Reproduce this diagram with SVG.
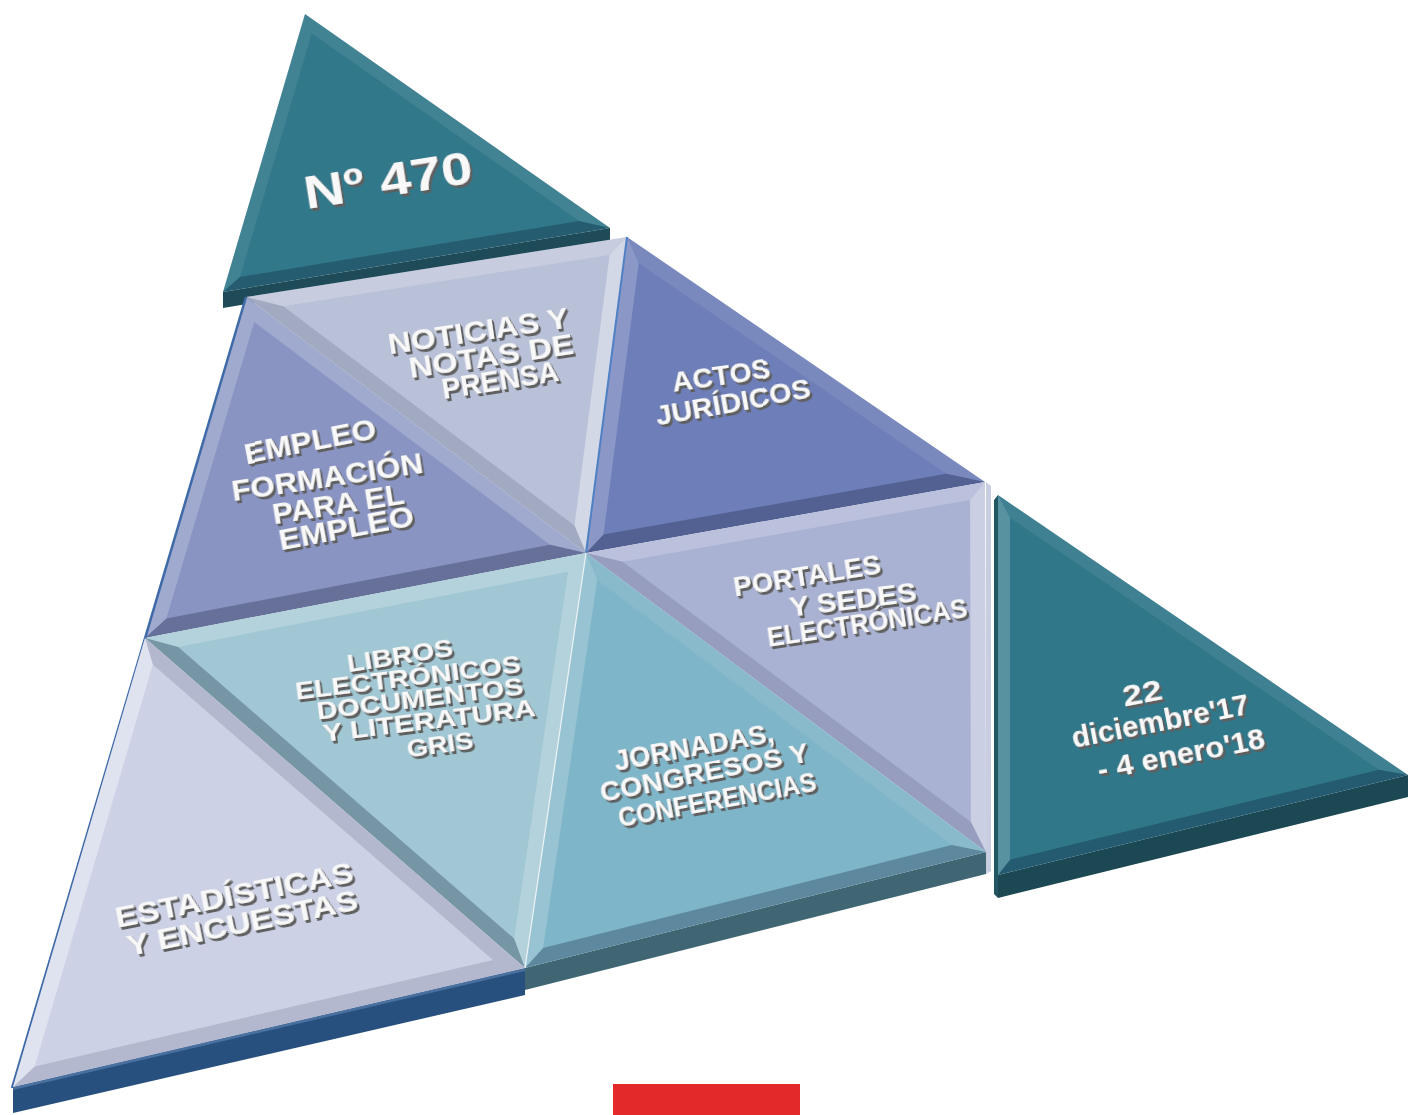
<svg xmlns="http://www.w3.org/2000/svg" width="1410" height="1115" viewBox="0 0 1410 1115">
<defs>
<style>
.hi1{fill:#ffffff;fill-opacity:.38}
.hi2{fill:#ffffff;fill-opacity:.2}
.hi3{fill:#ffffff;fill-opacity:.08}
.sh1{fill:#1a2440;fill-opacity:.14}
.sh2{fill:#0a1530;fill-opacity:.28}
.lbl{font-family:"Liberation Sans",Arial,sans-serif;font-weight:bold;fill:#f8f8f8;text-anchor:middle;filter:url(#emb)}
.f46{font-size:46px}
.f30{font-size:30px}
.f29{font-size:29px}
.f27{font-size:27px}
.f23{font-size:23px}
</style>
<filter id="emb" x="-10%" y="-40%" width="125%" height="190%">
<feOffset in="SourceAlpha" dx="0.7" dy="1.4" result="o1"/>
<feOffset in="SourceAlpha" dx="1.5" dy="2.8" result="o2"/>
<feMerge result="m"><feMergeNode in="o1"/><feMergeNode in="o2"/></feMerge>
<feFlood flood-color="#5e5e5e"/>
<feComposite in2="m" operator="in" result="sh"/>
<feMerge><feMergeNode in="sh"/><feMergeNode in="SourceGraphic"/></feMerge>
</filter>
</defs>
<rect width="1410" height="1115" fill="#ffffff"/>

<g id="numero">
<polygon points="223,292 610,228 610,244 223,308" fill="#1e4b57"/>
<polygon points="305,14 223,292 610,228" fill="#31788a"/>
<polygon class="hi3" points="305,14 223,292 240,277 311.8,33.5"/>
<polygon class="sh2" points="223,292 610,228 579,220.9 240,277"/>
<polygon class="hi3" points="610,228 305,14 311.8,33.5 579,220.9"/>
<text class="lbl f46" transform="translate(388,180) rotate(-9)" y="16" textLength="170" lengthAdjust="spacingAndGlyphs">Nº 470</text>
</g>

<g id="noticias">
<polygon points="246,297 627,237 586,553" fill="#b9c1d8"/>
<polygon class="hi2" points="246,297 627,237 609.6,254.9 283.3,306.3"/>
<polygon class="hi1" points="627,237 586,553 574.5,525.6 609.6,254.9"/>
<polygon class="sh1" points="586,553 246,297 283.3,306.3 574.5,525.6"/>
<text class="lbl f29" transform="translate(478,330) rotate(-8.5)" y="10.5" textLength="182" lengthAdjust="spacingAndGlyphs">NOTICIAS Y</text>
<text class="lbl f29" transform="translate(491,355) rotate(-8.5)" y="10.5" textLength="166" lengthAdjust="spacingAndGlyphs">NOTAS DE</text>
<text class="lbl f29" transform="translate(500,379) rotate(-9)" y="10.5" textLength="118" lengthAdjust="spacingAndGlyphs">PRENSA</text>
</g>

<g id="actos">
<polygon points="627,237 985,482 586,553" fill="#6e7eb8"/>
<polygon class="hi3" points="627,237 985,482 946.3,473.7 638.7,263.2"/>
<polygon class="sh2" points="985,482 586,553 603.5,534.6 946.3,473.7"/>
<polygon class="hi2" points="586,553 627,237 638.7,263.2 603.5,534.6"/>
<line x1="627" y1="237" x2="586" y2="553" stroke="#4f80c4" stroke-width="2"/>
<text class="lbl f27" transform="translate(721,375) rotate(-8)" y="9.5" textLength="99" lengthAdjust="spacingAndGlyphs">ACTOS</text>
<text class="lbl f27" transform="translate(733,402) rotate(-10)" y="9.5" textLength="157" lengthAdjust="spacingAndGlyphs">JURÍDICOS</text>
</g>

<g id="empleo">
<polygon points="246,297 586,553 145,638" fill="#8994c2"/>
<polygon class="hi2" points="246,297 586,553 550,544.7 254.2,322"/>
<polygon class="sh2" points="586,553 145,638 166.4,618.6 550,544.7"/>
<polygon class="hi2" points="145,638 246,297 254.2,322 166.4,618.6"/>
<text class="lbl f29" transform="translate(310,441) rotate(-11)" y="10.5" textLength="134" lengthAdjust="spacingAndGlyphs">EMPLEO</text>
<text class="lbl f29" transform="translate(327,476) rotate(-8.5)" y="10.5" textLength="193" lengthAdjust="spacingAndGlyphs">FORMACIÓN</text>
<text class="lbl f29" transform="translate(338,503) rotate(-9)" y="10.5" textLength="133" lengthAdjust="spacingAndGlyphs">PARA EL</text>
<text class="lbl f29" transform="translate(346,527) rotate(-10.5)" y="10.5" textLength="137" lengthAdjust="spacingAndGlyphs">EMPLEO</text>
</g>

<g id="libros">
<polygon points="145,638 586,553 525,968" fill="#a0c7d3"/>
<polygon class="hi2" points="145,638 586,553 568,571.8 178.2,646.9"/>
<polygon class="hi2" points="586,553 525,968 514.1,938.6 568,571.8"/>
<polygon class="sh2" points="525,968 145,638 178.2,646.9 514.1,938.6"/>
<text class="lbl f23" transform="translate(400,656) rotate(-9)" y="8.3" textLength="107" lengthAdjust="spacingAndGlyphs">LIBROS</text>
<text class="lbl f23" transform="translate(408,678) rotate(-7)" y="8.3" textLength="227" lengthAdjust="spacingAndGlyphs">ELECTRÓNICOS</text>
<text class="lbl f23" transform="translate(420,699) rotate(-7)" y="8.3" textLength="208" lengthAdjust="spacingAndGlyphs">DOCUMENTOS</text>
<text class="lbl f23" transform="translate(429,721) rotate(-7)" y="8.3" textLength="214" lengthAdjust="spacingAndGlyphs">Y LITERATURA</text>
<text class="lbl f23" transform="translate(440,745) rotate(-8)" y="8.3" textLength="67" lengthAdjust="spacingAndGlyphs">GRIS</text>
</g>

<g id="portales">
<polygon points="986,482 991,486 991,871 986,874" fill="#c9cde0"/>
<polygon points="586,553 985,482 986,852" fill="#aab2d4"/>
<polygon class="hi2" points="586,553 985,482 970.1,499.9 622.7,561.7"/>
<polygon class="hi1" points="985,482 986,852 970.9,822 970.1,499.9"/>
<polygon class="sh1" points="986,852 586,553 622.7,561.7 970.9,822"/>
<text class="lbl f27" transform="translate(807,575) rotate(-9)" y="9.5" textLength="149" lengthAdjust="spacingAndGlyphs">PORTALES</text>
<text class="lbl f27" transform="translate(853,600) rotate(-7)" y="9.5" textLength="128" lengthAdjust="spacingAndGlyphs">Y SEDES</text>
<text class="lbl f27" transform="translate(867,622) rotate(-8.5)" y="9.5" textLength="202" lengthAdjust="spacingAndGlyphs">ELECTRÓNICAS</text>
</g>

<g id="jornadas">
<polygon points="525,968 986,852 986,874 525,990" fill="#3f6672"/>
<polygon points="586,553 986,852 525,968" fill="#7fb5c8"/>
<polygon class="hi3" points="586,553 986,852 951.8,845.1 597.2,580.1"/>
<polygon class="sh2" points="986,852 525,968 543.1,948 951.8,845.1"/>
<polygon class="hi2" points="525,968 586,553 597.2,580.1 543.1,948"/>
<line x1="586" y1="553" x2="525" y2="968" stroke="#eef4f6" stroke-width="1.2"/>
<text class="lbl f27" transform="translate(694,747) rotate(-10)" y="9.5" textLength="162" lengthAdjust="spacingAndGlyphs">JORNADAS,</text>
<text class="lbl f27" transform="translate(704,772) rotate(-11)" y="9.5" textLength="212" lengthAdjust="spacingAndGlyphs">CONGRESOS  Y</text>
<text class="lbl f27" transform="translate(717,799) rotate(-10.5)" y="9.5" textLength="201" lengthAdjust="spacingAndGlyphs">CONFERENCIAS</text>
</g>

<g id="estadisticas">
<polygon points="13,1087 525,968 525,995 13,1113" fill="#27507f"/>
<polygon points="13,1087 525,968 525,971 13,1090" fill="#4a70a0"/>
<line x1="246" y1="297" x2="12" y2="1088" stroke="#3f6aa8" stroke-width="2.5"/>
<polygon points="145,638 525,968 13,1087" fill="#ccd1e6"/>
<polygon class="sh1" points="145,638 525,968 493,960 152.8,664.6"/>
<polygon class="sh1" points="525,968 13,1087 34.6,1066.6 493,960"/>
<polygon class="hi1" points="13,1087 145,638 152.8,664.6 34.6,1066.6"/>
<text class="lbl f30" transform="translate(234,894) rotate(-11)" y="11" textLength="242" lengthAdjust="spacingAndGlyphs">ESTADÍSTICAS</text>
<text class="lbl f30" transform="translate(242,922) rotate(-11.5)" y="11" textLength="235" lengthAdjust="spacingAndGlyphs">Y ENCUESTAS</text>
</g>

<g id="fechas">
<polygon points="994,500 998,495 998,898 994,894" fill="#235663"/>
<polygon points="998,875 1408,775 1408,797 998,898" fill="#1c4853"/>
<polygon points="998,495 1408,775 998,875" fill="#2f7789"/>
<polygon class="hi3" points="998,495 1408,775 1379,769.7 1010,517.7"/>
<polygon class="sh2" points="1408,775 998,875 1010,859.7 1379,769.7"/>
<polygon class="hi2" points="998,875 998,495 1010,517.7 1010,859.7"/>
<text class="lbl f29" transform="translate(1142,692) rotate(-11)" y="10.5" textLength="40" lengthAdjust="spacingAndGlyphs">22</text>
<text class="lbl f29" transform="translate(1160,720) rotate(-11)" y="10.5" textLength="180" lengthAdjust="spacingAndGlyphs">diciembre'17</text>
<text class="lbl f29" transform="translate(1181,754) rotate(-11)" y="10.5" textLength="170" lengthAdjust="spacingAndGlyphs">- 4 enero'18</text>
</g>

<g id="marca">
<rect x="613" y="1084" width="187" height="31" fill="#e3292a"/>
</g>
</svg>
